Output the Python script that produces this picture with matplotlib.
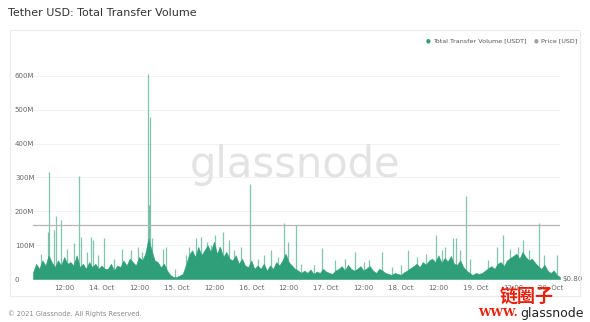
import numpy as np
import pandas as pd
import matplotlib.pyplot as plt
import matplotlib.dates as mdates

# hourly transfer volume (million USDT), starting 13 Oct 2021 02:00
volume = [
    20, 45, 30, 55, 40, 70, 50, 35,
    55, 40, 65, 45, 50, 40, 70, 35,
    45, 30, 50, 35, 45, 30, 40, 30,
    30, 45, 25, 40, 35, 55, 40, 60,
    50, 40, 65, 55, 75, 120, 85, 55,
    50, 35, 45, 25, 12, 6, 6, 10,
    15, 40, 70, 85, 65, 95, 70, 85,
    100, 80, 110, 75, 95, 65, 80, 60,
    55, 70, 45, 60, 40, 35, 55, 30,
    40, 30, 45, 25, 40, 30, 50, 40,
    55, 75, 50, 40, 30, 25, 18, 25,
    18, 28, 15, 22, 18, 30, 22, 18,
    15, 25, 30, 38, 25, 42, 30, 25,
    30, 38, 25, 32, 38, 25, 18, 30,
    25, 18, 15, 12, 18, 15, 12, 20,
    25, 32, 38, 45, 35, 50, 42, 55,
    60, 50, 70, 48, 62, 52, 68, 45,
    42, 55, 35, 25, 18, 12, 18, 15,
    18, 25, 32, 38, 30, 45, 50, 38,
    55, 62, 68, 75, 60, 80, 65, 55,
    60, 48, 38, 30, 42, 25, 18, 25, 12, 6,
]

# short-lived spikes: hours after start, volume (million USDT)
spike_hours = [2.5, 4.9, 5.2, 6.8, 7.5, 9.1, 11.0, 13.2, 14.8, 15.5, 17.4, 18.7, 19.3,
               21.0, 22.8, 26.0, 28.6, 31.5, 33.7, 35.0, 37.0, 37.3, 37.5, 38.2,
               41.7, 42.7, 45.5, 49.0, 50.0, 52.3, 53.9, 55.8, 57.0, 58.3, 59.5,
               60.8, 62.8, 64.5, 66.7, 69.5, 72.0, 74.0, 76.3, 78.5,
               80.4, 81.7, 84.2, 86.0, 90.0, 92.6, 97.0, 100.0, 103.1, 106.0,
               107.9, 111.8, 115.0, 118.0, 120.4, 123.0, 126.0,
               129.1, 131.0, 132.0, 134.8, 135.8, 137.0, 138.9, 140.0,
               146.0, 148.9, 150.8, 153.0, 155.6, 157.2, 159.0, 162.3, 164.0, 168.1]
spike_values = [75, 140, 315, 145, 185, 175, 90, 105, 305, 125, 80, 125, 115,
                70, 120, 60, 90, 85, 95, 80, 605, 220, 480, 120,
                90, 95, 30, 70, 95, 120, 125, 110, 100, 130, 95,
                140, 115, 85, 95, 280, 60, 70, 85, 65,
                165, 110, 160, 45, 40, 92, 55, 60, 80, 50,
                55, 80, 35, 40, 85, 65, 75,
                130, 85, 95, 120, 120, 85, 245, 60,
                55, 95, 130, 90, 95, 115, 85, 165, 70, 72]

price = 1.00
y_ticks = [0, 100, 200, 300, 400, 500, 600]
y_labels = ["0", "100M", "200M", "300M", "400M", "500M", "600M"]

start = pd.Timestamp("2021-10-13 02:00")
times = start + pd.to_timedelta(np.arange(len(volume)), unit="h")
spike_times = start + pd.to_timedelta(spike_hours, unit="h")

green = "#2e9f78"
fig = plt.figure(figsize=(5.9, 3.22), dpi=100)

# panel frame
fig.patches.append(plt.Rectangle((10 / 590, 1 - 296 / 322), 570 / 590, 266 / 322,
                                 transform=fig.transFigure, fill=False,
                                 edgecolor="#ececec", linewidth=0.8))

fig.text(8 / 590, 1 - 13 / 322, "Tether USD: Total Transfer Volume", fontsize=8,
         color="#333333", va="center", fontweight="medium")
fig.text(8 / 590, 1 - 314 / 322, "© 2021 Glassnode. All Rights Reserved.", fontsize=4.8,
         color="#888888", va="center")

ax = fig.add_axes([33 / 590, 1 - 279 / 322, 527 / 590, 219 / 322])
ax.fill_between(times, volume, color=green, linewidth=0.4, edgecolor=green)
ax.vlines(spike_times, 0, spike_values, color=green, linewidth=0.9, alpha=0.6)
ax.set_ylim(0, 647)
ax.set_xlim(start, start + pd.Timedelta(hours=169))
ax.set_yticks(y_ticks)
ax.set_yticklabels(y_labels)
ax.grid(axis="y", color="#f0f0f0", linewidth=0.6)
ax.set_axisbelow(True)
for s in ax.spines.values():
    s.set_visible(False)
ax.tick_params(axis="both", length=0, labelsize=5, colors="#666666", pad=4)
ax.tick_params(axis="y", pad=13)
for lab in ax.get_yticklabels():
    lab.set_horizontalalignment("left")

ax.xaxis.set_major_locator(mdates.HourLocator(byhour=[0, 12]))
def fmt(x, pos):
    d = mdates.num2date(x)
    return "12:00" if d.hour == 12 else f"{d.day}. Oct"
ax.xaxis.set_major_formatter(plt.FuncFormatter(fmt))

ax2 = ax.twinx()
ax2.plot([start, start + pd.Timedelta(hours=169)], [price, price], color="#b5b5b5", linewidth=0.9)
ax2.set_ylim(0.80, 0.80 + 647 / 160 * 0.2)
ax2.set_yticks([0.80])
ax2.set_yticklabels(["$0.80"])
ax2.tick_params(axis="y", length=0, labelsize=5, colors="#666666", pad=2)
for s in ax2.spines.values():
    s.set_visible(False)

# legend
fig.text(428 / 590, 1 - 41 / 322, "●", fontsize=4, color=green, va="center", ha="center")
fig.text(433 / 590, 1 - 41 / 322, "Total Transfer Volume [USDT]", fontsize=4.6,
         color="#555555", va="center")
fig.text(536 / 590, 1 - 41 / 322, "●", fontsize=4, color="#a0a0a0", va="center", ha="center")
fig.text(541 / 590, 1 - 41 / 322, "Price [USD]", fontsize=4.6, color="#555555", va="center")

# watermarks
fig.text(295 / 590, 1 - 165 / 322, "glassnode", fontsize=30, color="#e3e3e3",
         ha="center", va="center", zorder=0)
fig.text(527 / 590, 1 - 296 / 322, "链圈子", fontsize=13, color="#e8200c", fontweight="bold",
         ha="center", va="center", family=["Noto Sans CJK SC", "DejaVu Sans"])
fig.text(478 / 590, 1 - 313 / 322, "WWW.", fontsize=8, color="#e8200c", fontweight="bold",
         ha="left", va="center", family="DejaVu Serif")
fig.text(520 / 590, 1 - 313 / 322, "glassnode", fontsize=9, color="#222222",
         ha="left", va="center")

fig.savefig("out.png", dpi=100, facecolor="white")
